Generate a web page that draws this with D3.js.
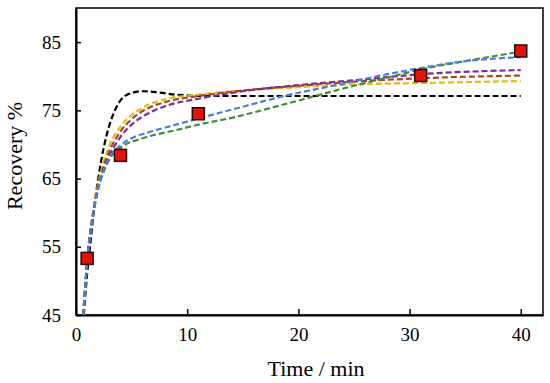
<!DOCTYPE html>
<html>
<head>
<meta charset="utf-8">
<script src="https://cdn.jsdelivr.net/npm/d3@7"></script>
<style>
  body { margin: 0; background: #fff; }
  text { font-family: "Liberation Serif", "Times New Roman", serif; fill: #000; }
</style>
</head>
<body>
<svg id="svg" width="550" height="383"></svg>
<script>
// measured recovery (%)
const expTime = [1, 4, 11, 31, 40]
const expRecovery = [53.3, 68.4, 74.5, 80.1, 83.7]

// model curves as [time, recovery]
const blackFit = [[0.7,45],[1.0,51],[1.3,55.6],[1.6,60.3],[2,65],[2.5,69.6],[3,72.8],[3.5,75],[4.5,77.2],[6,77.8],[7.5,77.6],[9,77.3],[12,77.1],[20,77.1],[40,77.1]]
const yellowFit = [[0.65,45],[1.1,54.8],[1.5,59.8],[2,64.3],[2.5,67.5],[3,69.8],[4,72.6],[5,74.3],[6,75.4],[8,76.6],[11,77.3],[15,77.9],[20,78.4],[25,78.8],[31,79.0],[40,79.3]]
const brownFit = [[0.65,45],[1.1,54.6],[1.5,59.5],[2,63.9],[2.5,66.9],[3,69.0],[4,71.9],[5,73.7],[6,74.9],[8,76.2],[11,77.1],[15,77.9],[20,78.6],[25,79.2],[31,79.7],[40,80.1]]
const purpleFit = [[0.65,45],[1.1,54.5],[1.5,59.3],[2,63.6],[2.5,66.4],[3,68.3],[4,71.1],[5,72.9],[6,74.1],[8,75.6],[11,76.7],[15,77.8],[20,78.7],[25,79.4],[31,80.3],[40,80.9]]
const blueFit = [[0.65,45],[1.1,54.5],[1.5,59.3],[2,63.7],[2.5,66.3],[3,68.0],[4,69.9],[5,70.9],[7,72.0],[9,72.9],[11,73.8],[14,75.1],[19,77.2],[24,78.9],[28,80.3],[31,81.2],[35,82.2],[40,82.8]]
const greenFit = [[0.65,45],[1.1,54.5],[1.5,59.3],[2,63.5],[2.5,66.0],[3,67.8],[4,69.5],[6,70.9],[9,72.1],[11,72.9],[14,73.9],[19,76.0],[25,78.6],[28,79.8],[31,81.0],[36,82.5],[40,83.6]]

const xTicks = [0, 10, 20, 30, 40]
const yTicks = [45, 55, 65, 75, 85]

// drawing order: black first, blue on top
const fits = [
  {pts: blackFit, color: '#000'},
  {pts: yellowFit, color: '#e6b919'},
  {pts: brownFit, color: '#a9481c'},
  {pts: purpleFit, color: '#7a2d9c'},
  {pts: greenFit, color: '#3f8f35'},
  {pts: blueFit, color: '#4f7fd4'}
]

const svg = d3.select('#svg')
const plotL = 76, plotR = 543, plotT = 8, plotB = 315

const x = d3.scaleLinear().domain([0, 42]).range([plotL, plotR])
const y = d3.scaleLinear().domain([45, 90]).range([plotB, plotT])

// frame
svg.append('rect')
  .attr('x', plotL).attr('y', plotT)
  .attr('width', plotR - plotL).attr('height', plotB - plotT)
  .attr('fill', 'none').attr('stroke', '#000').attr('stroke-width', 1.5)

const xAxis = svg.append('g')
  .attr('transform', `translate(0,${plotB})`)
  .call(d3.axisBottom(x).tickValues(xTicks).tickSizeInner(-6).tickSizeOuter(0).tickPadding(13))
xAxis.select('.domain').attr('stroke-width', 2)
xAxis.selectAll('.tick line').attr('stroke-width', 1.5)
xAxis.selectAll('text').attr('font-size', 19).style('font-family', '"Liberation Serif", serif')

const yAxis = svg.append('g')
  .attr('transform', `translate(${plotL},0)`)
  .call(d3.axisLeft(y).tickValues(yTicks).tickSizeInner(-5).tickSizeOuter(0).tickPadding(15))
yAxis.select('.domain').attr('stroke-width', 2)
yAxis.selectAll('.tick line').attr('stroke-width', 1.5)
yAxis.selectAll('text').attr('font-size', 19).style('font-family', '"Liberation Serif", serif')

const line = d3.line()
  .x(d => x(d[0]))
  .y(d => y(d[1]))
  .curve(d3.curveMonotoneX)

svg.append('g').selectAll('path')
  .data(fits)
  .enter()
  .append('path')
  .attr('d', d => line(d.pts))
  .attr('fill', 'none')
  .attr('stroke', d => d.color)
  .attr('stroke-width', 2.2)
  .attr('stroke-dasharray', '6,3')

svg.append('g').selectAll('rect')
  .data(expTime.map((t, i) => [t, expRecovery[i]]))
  .enter()
  .append('rect')
  .attr('x', d => x(d[0]) - 6)
  .attr('y', d => y(d[1]) - 6)
  .attr('width', 12).attr('height', 12)
  .attr('fill', '#e0150c')
  .attr('stroke', '#2a0a05')
  .attr('stroke-width', 1.5)

svg.append('text')
  .attr('x', 316).attr('y', 376)
  .attr('text-anchor', 'middle')
  .attr('font-size', 22)
  .text('Time / min')

svg.append('text')
  .attr('transform', 'translate(22,156) rotate(-90)')
  .attr('text-anchor', 'middle')
  .attr('font-size', 22)
  .text('Recovery %')
</script>
</body>
</html>
